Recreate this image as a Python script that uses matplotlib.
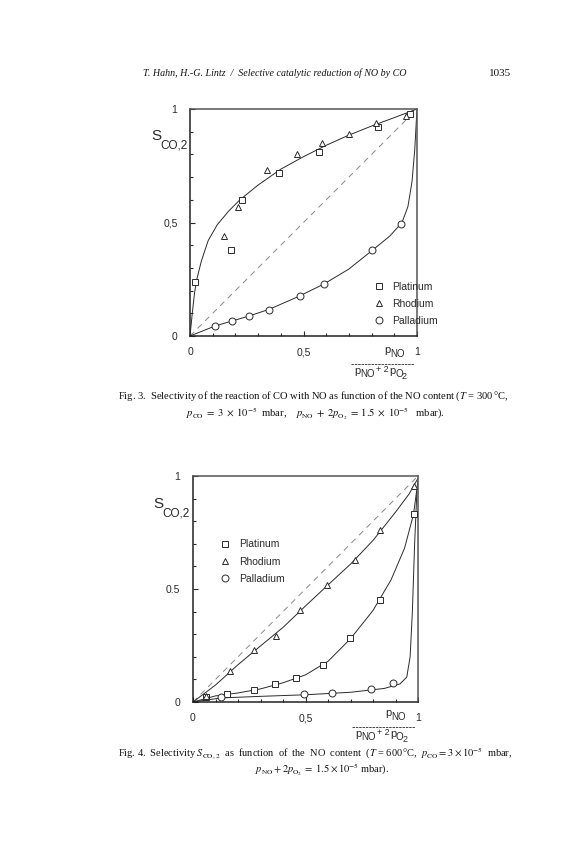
import matplotlib
matplotlib.use('Agg')
import matplotlib.pyplot as plt
from matplotlib.lines import Line2D

plt.rcParams['font.family'] = ['Liberation Sans', 'DejaVu Sans']
plt.rcParams['mathtext.fontset'] = 'stix'

# ---- Fig. 3 (T = 300 C) ----
pt3_x = [0.02, 0.18, 0.23, 0.39, 0.57, 0.83, 0.97]
pt3_y = [0.24, 0.38, 0.60, 0.72, 0.81, 0.92, 0.98]
rh3_x = [0.15, 0.21, 0.34, 0.47, 0.58, 0.70, 0.82, 0.95]
rh3_y = [0.44, 0.57, 0.73, 0.80, 0.85, 0.89, 0.94, 0.97]
pd3_x = [0.11, 0.185, 0.26, 0.35, 0.485, 0.59, 0.80, 0.93]
pd3_y = [0.044, 0.066, 0.088, 0.115, 0.176, 0.229, 0.379, 0.493]

# hand drawn guide curves
fit3_ptrh_x = [0, 0.01, 0.02, 0.03, 0.05, 0.08, 0.12, 0.17, 0.22, 0.3, 0.4, 0.5, 0.6, 0.7, 0.8, 0.9, 1.0]
fit3_ptrh_y = [0, 0.10, 0.19, 0.25, 0.33, 0.42, 0.49, 0.55, 0.60, 0.665, 0.735, 0.79, 0.84, 0.885, 0.925, 0.962, 1.0]
fit3_pd_x = [0, 0.11, 0.185, 0.26, 0.35, 0.48, 0.59, 0.7, 0.8, 0.88, 0.934, 0.96, 0.978, 0.99, 1.0]
fit3_pd_y = [0, 0.044, 0.066, 0.088, 0.118, 0.175, 0.229, 0.295, 0.375, 0.44, 0.5, 0.57, 0.68, 0.82, 1.0]

# ---- Fig. 4 (T = 600 C) ----
pt4_x = [0.058, 0.151, 0.271, 0.364, 0.458, 0.578, 0.698, 0.831, 0.982]
pt4_y = [0.022, 0.035, 0.053, 0.080, 0.106, 0.164, 0.283, 0.451, 0.830]
rh4_x = [0.058, 0.164, 0.271, 0.369, 0.476, 0.596, 0.72, 0.831, 0.982]
rh4_y = [0.027, 0.137, 0.230, 0.292, 0.407, 0.518, 0.628, 0.761, 0.956]
pd4_x = [0.124, 0.493, 0.618, 0.791, 0.889]
pd4_y = [0.022, 0.035, 0.040, 0.058, 0.084]

fit4_rh_x = [0, 0.1, 0.2, 0.3, 0.4, 0.5, 0.6, 0.7, 0.8, 0.9, 0.96, 1.0]
fit4_rh_y = [0, 0.075, 0.165, 0.248, 0.33, 0.425, 0.518, 0.61, 0.715, 0.84, 0.92, 0.99]
fit4_pt_x = [0, 0.1, 0.2, 0.3, 0.4, 0.5, 0.6, 0.7, 0.8, 0.88, 0.94, 0.98, 1.0]
fit4_pt_y = [0, 0.027, 0.04, 0.058, 0.085, 0.12, 0.18, 0.28, 0.405, 0.54, 0.68, 0.83, 0.98]
fit4_pd_x = [0, 0.124, 0.3, 0.5, 0.7, 0.85, 0.92, 0.95, 0.965, 0.975, 0.985, 0.995]
fit4_pd_y = [0, 0.018, 0.025, 0.032, 0.043, 0.06, 0.08, 0.11, 0.2, 0.4, 0.7, 0.93]

labels = ['Platinum', 'Rhodium', 'Palladium']
markers = ['s', '^', 'o']

W, H = 576, 864
ink = '#2a2a2a'
mk = dict(linestyle='none', mfc='white', mec=ink, mew=0.7, ms=5, zorder=3)
serif = dict(family='Liberation Serif', color='#111111')


def fx(px):
    return px / W


def fy(py):
    return 1 - py / H


def panel(ax, half_label):
    ax.plot([0, 1], [0, 1], ls=(0, (6, 5)), color='#888888', lw=0.7)
    ax.set_xlim(0, 1)
    ax.set_ylim(0, 1)
    ax.set_xticks([0, 0.5, 1])
    ax.set_xticklabels(['0', '0,5', '1'])
    ax.set_yticks([0, 0.5, 1])
    ax.set_yticklabels(['0', half_label, '1'])
    ax.set_xticks([i / 10 for i in range(11)], minor=True)
    ax.set_yticks([i / 10 for i in range(11)], minor=True)
    ax.tick_params(which='both', direction='in', top=False, right=False,
                   labelsize=7.5, labelcolor=ink, color=ink)
    ax.tick_params(axis='x', pad=8)
    ax.tick_params(axis='y', pad=9)
    ax.tick_params(which='major', length=3.5, width=0.8)
    ax.tick_params(which='minor', length=2.5, width=0.8)
    for s in ax.spines.values():
        s.set_linewidth(1.1)
        s.set_color('#222222')
    for s in ['top', 'right']:
        ax.spines[s].set_color('#555555')


def ylabel(fig, px, py):
    fig.text(fx(px), fy(py), 'S', fontsize=11, color=ink, ha='left', va='baseline')
    fig.text(fx(px + 9), fy(py + 8), 'CO,2', fontsize=8.5, color=ink, ha='left', va='baseline')


def xlabel(fig, px, py):
    # fraction p_NO / (p_NO + 2 p_O2); (px, py) = baseline of numerator p
    t = dict(color=ink, ha='left', va='baseline')
    fig.text(fx(px), fy(py), 'p', fontsize=8, **t)
    fig.text(fx(px + 6), fy(py + 4), 'NO', fontsize=7, **t)
    fig.add_artist(Line2D([fx(px - 33), fx(px + 30)], [fy(py + 11), fy(py + 11)],
                          color=ink, lw=0.6, ls=(0, (3, 1))))
    d = py + 21
    fig.text(fx(px - 30), fy(d), 'p', fontsize=8, **t)
    fig.text(fx(px - 24), fy(d + 3), 'NO', fontsize=7, **t)
    fig.text(fx(px - 8), fy(d - 2), '+ 2', fontsize=6.5, **t)
    fig.text(fx(px + 5), fy(d), 'p', fontsize=8, **t)
    fig.text(fx(px + 11), fy(d + 3), 'O', fontsize=7, **t)
    fig.text(fx(px + 18), fy(d + 5), '2', fontsize=6.5, **t)


def legend(ax, loc_xy):
    handles = [Line2D([], [], marker=m, **mk) for m in markers]
    ax.legend(handles, labels, loc='upper left', bbox_to_anchor=loc_xy, frameon=False,
              fontsize=7.5, labelcolor=ink, handlelength=1.0, handletextpad=0.8,
              labelspacing=0.7, borderpad=0, borderaxespad=0)


fig = plt.figure(figsize=(5.76, 8.64), dpi=100)

# header
fig.text(fx(143), fy(76), 'T. Hahn, H.-G. Lintz  /  Selective catalytic reduction of NO by CO',
         style='italic', fontsize=7.2, **serif)
fig.text(fx(489), fy(76), '1035', fontsize=8, **serif)

# Fig. 3
ax1 = fig.add_axes([fx(190), fy(336), 227 / W, 227 / H])
panel(ax1, '0,5')
ax1.plot(fit3_ptrh_x, fit3_ptrh_y, color=ink, lw=0.7)
ax1.plot(fit3_pd_x, fit3_pd_y, color=ink, lw=0.7)
ax1.plot(pt3_x, pt3_y, marker='s', **mk)
ax1.plot(rh3_x, rh3_y, marker='^', **mk)
ax1.plot(pd3_x, pd3_y, marker='o', **mk)
legend(ax1, (0.81, 0.24))
ylabel(fig, 151, 140)
xlabel(fig, 384, 353)

fig.text(fx(118), fy(399),
         r'Fig. 3.  Selectivity of the reaction of CO with NO as function of the NO content ($T$ = 300$\,$°C,',
         fontsize=7.6, **serif)
fig.text(fx(315), fy(416),
         r'$p_{\rm CO}\;=\;3\;\times\;10^{-5}$  mbar,    $p_{\rm NO}\;+\;2p_{\rm O_2}\;=\;1.5\;\times\;10^{-5}$   mbar).',
         fontsize=7.6, ha='center', **serif)

# Fig. 4
ax2 = fig.add_axes([fx(193), fy(702), 225 / W, 226 / H])
panel(ax2, '0.5')
ax2.plot(fit4_rh_x, fit4_rh_y, color=ink, lw=0.7)
ax2.plot(fit4_pt_x, fit4_pt_y, color=ink, lw=0.7)
ax2.plot(fit4_pd_x, fit4_pd_y, color=ink, lw=0.7)
ax2.plot(pt4_x, pt4_y, marker='s', **mk)
ax2.plot(rh4_x, rh4_y, marker='^', **mk)
ax2.plot(pd4_x, pd4_y, marker='o', **mk)
legend(ax2, (0.12, 0.72))
ylabel(fig, 153, 508)
xlabel(fig, 385, 716)

fig.text(fx(118), fy(757),
         r'Fig. 4.  Selectivity $S_{\rm CO,2}$  as  function  of  the  NO  content  ($T$ = 600$\,$°C,  $p_{\rm CO}=3\times10^{-5}$  mbar,',
         fontsize=7.5, **serif)
fig.text(fx(322), fy(772),
         r'$p_{\rm NO}+2p_{\rm O_2}\;=\;1.5\times10^{-5}$ mbar).',
         fontsize=7.5, ha='center', **serif)

fig.savefig('out.png', dpi=100)
